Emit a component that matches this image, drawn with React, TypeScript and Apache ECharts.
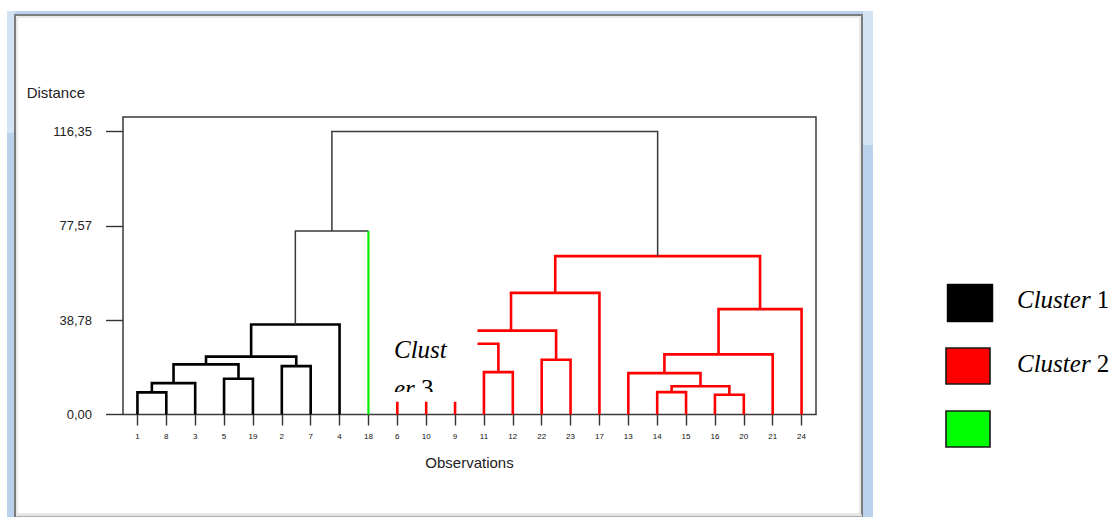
import React, { useEffect, useRef } from 'react';
import * as echarts from 'echarts';

// ---- data ----
const leafLabels = ['1', '8', '3', '5', '19', '2', '7', '4', '18', '6', '10', '9', '11', '12', '22', '23', '17', '13', '14', '15', '16', '20', '21', '24'];
const leafGroups = ['k', 'k', 'k', 'k', 'k', 'k', 'k', 'k', 'g', 'r', 'r', 'r', 'r', 'r', 'r', 'r', 'r', 'r', 'r', 'r', 'r', 'r', 'r', 'r'];
// merge i creates node "n" + i
const mergeLeft = ['1', 'n0', '5', 'n1', '2', 'n3', 'n5', 'n6', '6', 'n8', '11', 'n9', '22', 'n11', 'n13', '14', '16', 'n15', '13', 'n18', 'n19', 'n14', 'n7'];
const mergeRight = ['8', '3', '19', 'n2', '7', 'n4', '4', '18', '10', '9', '12', 'n10', '23', 'n12', '17', '15', '20', 'n16', 'n17', '21', '24', 'n20', 'n21'];
const mergeHeights = [9.1, 12.9, 14.7, 20.6, 19.9, 23.8, 37.0, 75.4, 11.0, 16.0, 17.4, 29.1, 22.5, 34.5, 50.0, 9.2, 8.1, 11.6, 17.0, 24.7, 43.3, 65.1, 116.35];
const mergeStyles = ['k', 'k', 'k', 'k', 'k', 'k', 'k', 'top', 'r', 'r', 'r', 'r', 'r', 'r', 'r', 'r', 'r', 'r', 'r', 'r', 'r', 'r', 'top'];
const yTicks = [0, 38.78, 77.57, 116.35];
const yMax = 122.3;
const legendLabels = ['1', '2', ''];
const legendColors = ['#000000', '#ff0000', '#00ff00'];

const lineStyles: Record<string, { color: string; width: number }> = {
  k: { color: '#000000', width: 2.6 },
  r: { color: '#ff0000', width: 2.6 },
  g: { color: '#00f000', width: 2.2 },
  top: { color: '#3a3a3a', width: 1.5 },
};

type Seg = { pts: [number, number][]; style: string };

function buildSegments(): Seg[] {
  const nx: Record<string, number> = {};
  const nh: Record<string, number> = {};
  leafLabels.forEach((l, i) => { nx[l] = i; nh[l] = 0; });
  const leafStyle = (ref: string) => {
    const i = leafLabels.indexOf(ref);
    return i >= 0 ? leafGroups[i] : null;
  };
  const main: Seg[] = [];
  const extra: Seg[] = [];
  mergeHeights.forEach((h, i) => {
    const a = mergeLeft[i];
    const b = mergeRight[i];
    const st = mergeStyles[i];
    const xa = nx[a];
    const xb = nx[b];
    const sa = leafStyle(a);
    const sb = leafStyle(b);
    const pts: [number, number][] = [];
    if (sa && sa !== st) {
      extra.push({ pts: [[xa, 0], [xa, h]], style: sa });
      pts.push([xa, h]);
    } else {
      pts.push([xa, nh[a]], [xa, h]);
    }
    if (sb && sb !== st) {
      extra.push({ pts: [[xb, 0], [xb, h]], style: sb });
      pts.push([xb, h]);
    } else {
      pts.push([xb, h], [xb, nh[b]]);
    }
    main.push({ pts, style: st });
    nx['n' + i] = (xa + xb) / 2;
    nh['n' + i] = h;
  });
  return main.concat(extra);
}

const segs = buildSegments();

const fmt = (v: number) => v.toFixed(2).replace('.', ',');

export default function App() {
  const ref = useRef<HTMLDivElement>(null);
  useEffect(() => {
    if (!ref.current) return;
    const chart = echarts.init(ref.current, undefined, { renderer: 'svg' });
    const serif = "'Liberation Serif', 'Times New Roman', serif";
    const sans = "'Liberation Sans', Arial, sans-serif";

    const legendEls: any[] = [];
    legendColors.forEach((c, i) => {
      const y0 = [284, 348, 411][i];
      legendEls.push({
        type: 'rect',
        z: 60,
        shape: i === 0 ? { x: 947, y: y0, width: 46, height: 38 } : { x: 946, y: y0, width: 44, height: 36 },
        style: { fill: c, stroke: i === 0 ? '#111' : '#1a1a1a', lineWidth: i === 0 ? 0.5 : 1.6 },
      });
      if (legendLabels[i]) {
        legendEls.push({
          type: 'text',
          z: 60,
          x: 1017,
          y: y0 + 15,
          style: {
            text: '{i|Cluster} {n|' + legendLabels[i] + '}',
            fontFamily: serif,
            fontSize: 25,
            fill: '#000',
            verticalAlign: 'middle',
            rich: {
              i: { fontStyle: 'italic', fontFamily: serif, fontSize: 25, fill: '#000' },
              n: { fontFamily: serif, fontSize: 25, fill: '#000' },
            },
          },
        });
      }
    });

    chart.setOption({
      animation: false,
      backgroundColor: '#ffffff',
      grid: {
        left: 123,
        top: 117,
        right: 298,
        bottom: 102.5,
        show: true,
        borderColor: '#3a3a3a',
        borderWidth: 1.5,
        backgroundColor: 'transparent',
      },
      xAxis: [
        {
          type: 'category',
          data: leafLabels,
          name: 'Observations',
          nameLocation: 'middle',
          nameGap: 40,
          nameTextStyle: { fontFamily: sans, fontSize: 15, color: '#222', verticalAlign: 'top' },
          axisLine: { show: false, onZero: false },
          axisTick: { show: true, alignWithLabel: true, length: 11, lineStyle: { color: '#333', width: 1.4 } },
          axisLabel: { fontFamily: sans, fontSize: 8, color: '#111', margin: 18, interval: 0 },
          splitLine: { show: false },
        },
        {
          // hidden numeric twin of the category axis: leaf i sits at value i
          type: 'value',
          min: -0.5,
          max: leafLabels.length - 0.5,
          show: false,
          axisLine: { onZero: false },
          splitLine: { show: false },
        },
      ],
      yAxis: {
        type: 'value',
        min: 0,
        max: yMax,
        interval: 116.35 / 3,
        name: 'Distance',
        nameLocation: 'end',
        nameGap: 25,
        nameMoveOverlap: false,
        nameTextStyle: { fontFamily: sans, fontSize: 15, color: '#222', align: 'right', verticalAlign: 'middle', padding: [0, 38, 0, 0] },
        axisLine: { show: false, onZero: false },
        axisTick: { show: true, length: 17, customValues: yTicks, lineStyle: { color: '#333', width: 1.4 } },
        axisLabel: {
          fontFamily: sans,
          fontSize: 13,
          color: '#222',
          margin: 31,
          customValues: yTicks,
          formatter: (v: number) => fmt(v),
        },
        splitLine: { show: false },
      },
      series: [
        {
          type: 'custom',
          coordinateSystem: 'cartesian2d',
          xAxisIndex: 1,
          yAxisIndex: 0,
          silent: true,
          clip: false,
          data: segs.map((s) => s.pts[0]),
          renderItem: (params: any, api: any) => {
            const s = segs[params.dataIndex];
            const st = lineStyles[s.style];
            return {
              type: 'polyline',
              shape: { points: s.pts.map((p) => api.coord(p)) },
              style: { stroke: st.color, lineWidth: st.width, fill: 'none', lineJoin: 'miter' },
            };
          },
        },
      ],
      graphic: [
        // window frame
        { type: 'rect', z: -10, silent: true, shape: { x: 7, y: 11, width: 866, height: 510 }, style: { fill: '#bad2ec' } },
        { type: 'rect', z: -10, silent: true, shape: { x: 7, y: 11, width: 8, height: 122 }, style: { fill: '#d3e3f4' } },
        { type: 'rect', z: -10, silent: true, shape: { x: 863, y: 11, width: 10, height: 134 }, style: { fill: '#d3e3f4' } },
        { type: 'rect', z: -9, silent: true, shape: { x: 15, y: 15, width: 847, height: 501 }, style: { fill: '#ffffff', stroke: '#7c7c7c', lineWidth: 2 } },
        { type: 'rect', z: -9, silent: true, shape: { x: 17, y: 17, width: 843, height: 497 }, style: { fill: 'none', stroke: '#d4d4d4', lineWidth: 1 } },
        { type: 'line', z: -8, silent: true, shape: { x1: 16, y1: 515.5, x2: 862, y2: 515.5 }, style: { stroke: '#e4e4e4', lineWidth: 2 } },
        // "Cluster 3" text box overlay
        { type: 'rect', z: 50, silent: true, shape: { x: 374, y: 318, width: 103.5, height: 83.5 }, style: { fill: '#ffffff' } },
        {
          type: 'text', z: 51, x: 394, y: 349,
          style: {
            text: '{i|Clust}', fontFamily: serif, fontSize: 25, fill: '#000', verticalAlign: 'middle',
            rich: { i: { fontStyle: 'italic', fontFamily: serif, fontSize: 25, fill: '#000' } },
          },
        },
        {
          type: 'text', z: 51, x: 394, y: 388,
          style: {
            text: '{i|er} {n|3}', fontFamily: serif, fontSize: 25, fill: '#000', verticalAlign: 'middle',
            rich: {
              i: { fontStyle: 'italic', fontFamily: serif, fontSize: 25, fill: '#000' },
              n: { fontFamily: serif, fontSize: 25, fill: '#000' },
            },
          },
        },
        { type: 'rect', z: 52, silent: true, shape: { x: 374, y: 392, width: 103.5, height: 9.5 }, style: { fill: '#ffffff' } },
        ...legendEls,
      ],
    });
    return () => chart.dispose();
  }, []);
  return <div ref={ref} style={{ position: 'fixed', left: 0, top: 0, width: 1114, height: 517 }} />;
}
